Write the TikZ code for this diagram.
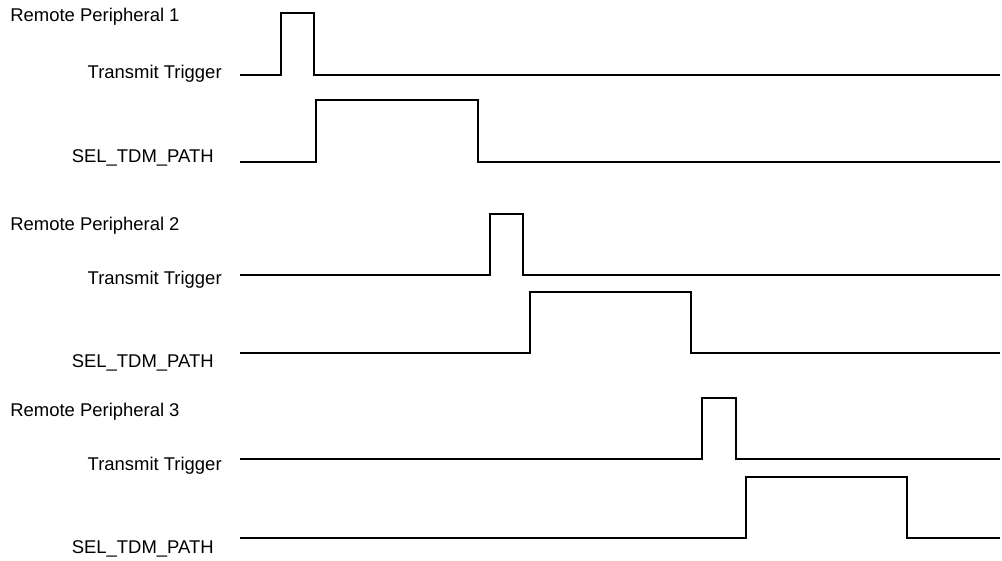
\documentclass[tikz,border=0pt]{standalone}
\usepackage{fontspec}
\setmainfont{Liberation Sans}
\begin{document}
\begin{tikzpicture}[x=0.02cm, y=-0.02cm,
    every node/.style={font=\fontsize{10.5}{12}\selectfont, inner sep=0pt},
    wave/.style={black, line width=1.3pt, line join=miter}]
    \useasboundingbox (0,0) rectangle (1002,561);

    % Remote Peripheral 1
    \node[anchor=west] (rp1) at (10,17) {Remote Peripheral 1};
    \node[anchor=east] (tt1) at (222,74) {Transmit Trigger};
    \node[anchor=east] (sel1) at (214,158) {SEL\_TDM\_PATH};
    \coordinate (t1) at (240,75);
    \coordinate (s1) at (240,162);
    \draw[wave] (t1) -| (281,13) -| (314,75) -- (1000,75);
    \draw[wave] (s1) -| (316,100) -| (478,162) -- (1000,162);

    % Remote Peripheral 2
    \node[anchor=west] (rp2) at (10,226) {Remote Peripheral 2};
    \node[anchor=east] (tt2) at (222,280) {Transmit Trigger};
    \node[anchor=east] (sel2) at (214,363) {SEL\_TDM\_PATH};
    \coordinate (t2) at (240,275);
    \coordinate (s2) at (240,353);
    \draw[wave] (t2) -| (490,214) -| (523,275) -- (1000,275);
    \draw[wave] (s2) -| (530,292) -| (691,353) -- (1000,353);

    % Remote Peripheral 3
    \node[anchor=west] (rp3) at (10,412) {Remote Peripheral 3};
    \node[anchor=east] (tt3) at (222,466) {Transmit Trigger};
    \node[anchor=east] (sel3) at (214,549) {SEL\_TDM\_PATH};
    \coordinate (t3) at (240,459);
    \coordinate (s3) at (240,538);
    \draw[wave] (t3) -| (702,398) -| (736,459) -- (1000,459);
    \draw[wave] (s3) -| (746,477) -| (907,538) -- (1000,538);
\end{tikzpicture}
\end{document}
